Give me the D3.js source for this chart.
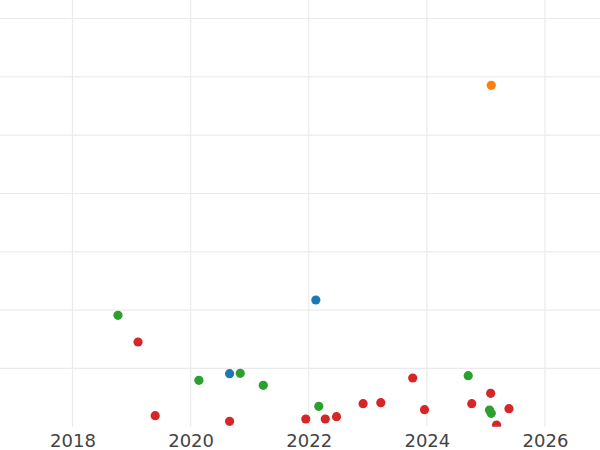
<!DOCTYPE html>
<html>
<head>
<meta charset="utf-8">
<script src="https://cdn.jsdelivr.net/npm/d3@7"></script>
<style>
  html, body { margin: 0; padding: 0; background: #fff; }
  svg { display: block; }
</style>
</head>
<body>
<svg id="chart" width="600" height="450"></svg>
<script>
// ---- data ----
const xTicks = [2018, 2020, 2022, 2024, 2026];
const yTicks = [0, 10, 20, 30, 40, 50, 60, 70];

const blueX = [2020.66, 2022.12];
const blueY = [9.10, 21.74];

const orangeX = [2025.09];
const orangeY = [58.55];

const greenX = [2018.77, 2020.14, 2020.84, 2021.23, 2022.17, 2024.70, 2025.06, 2025.09];
const greenY = [19.12, 7.97, 9.17, 7.11, 3.51, 8.76, 2.88, 2.31];

const redX = [2019.11, 2019.40, 2020.66, 2021.95, 2022.28, 2022.47, 2022.92, 2023.22,
              2023.76, 2023.96, 2024.76, 2025.08, 2025.39, 2025.18];
const redY = [14.54, 1.90, 0.94, 1.34, 1.34, 1.73, 3.96, 4.13,
              8.37, 2.93, 3.96, 5.74, 3.10, 0.31];

const series = [
  { xs: blueX, ys: blueY, color: "#1f77b4" },
  { xs: orangeX, ys: orangeY, color: "#ff7f0e" },
  { xs: greenX, ys: greenY, color: "#2ca02c" },
  { xs: redX, ys: redY, color: "#d62728" }
];

// ---- layout ----
const W = 600, H = 450;
const plotBottom = 426.8;
const svg = d3.select("#chart");

const x = d3.scaleLinear().domain([2018, 2026]).range([72.5, 545.0]);
const y = d3.scaleLinear().domain([0, 70]).range([plotBottom, 18.5]);

svg.append("defs").append("clipPath").attr("id", "plotclip")
  .append("rect").attr("x", 0).attr("y", 0).attr("width", W).attr("height", plotBottom);

// gridlines
const grid = svg.append("g").attr("class", "grid");
grid.selectAll("line.h").data(yTicks.filter(d => d > 0)).join("line")
  .attr("class", "h")
  .attr("x1", 0).attr("x2", W)
  .attr("y1", d => y(d)).attr("y2", d => y(d))
  .attr("stroke", "#ebebeb").attr("stroke-width", 1.2);
grid.selectAll("line.v").data(xTicks).join("line")
  .attr("class", "v")
  .attr("x1", d => x(d)).attr("x2", d => x(d))
  .attr("y1", 0).attr("y2", plotBottom)
  .attr("stroke", "#ebebeb").attr("stroke-width", 1.2);

// x axis labels
const xAxis = d3.axisBottom(x).tickValues(xTicks).tickSize(0).tickPadding(0).tickFormat(d3.format("d"));
const gx = svg.append("g").attr("transform", `translate(0,${plotBottom})`).call(xAxis);
gx.select(".domain").remove();
gx.selectAll("text")
  .attr("dy", null)
  .attr("y", 20.5)
  .attr("fill", "#444")
  .style("font-family", "'DejaVu Sans', sans-serif")
  .style("font-size", "18px");

// points
const pts = svg.append("g").attr("clip-path", "url(#plotclip)");
series.forEach(s => {
  pts.append("g").selectAll("circle")
    .data(s.xs.map((xv, i) => [xv, s.ys[i]]))
    .join("circle")
    .attr("cx", d => x(d[0]))
    .attr("cy", d => y(d[1]))
    .attr("r", 4.6)
    .attr("fill", s.color);
});
</script>
</body>
</html>
